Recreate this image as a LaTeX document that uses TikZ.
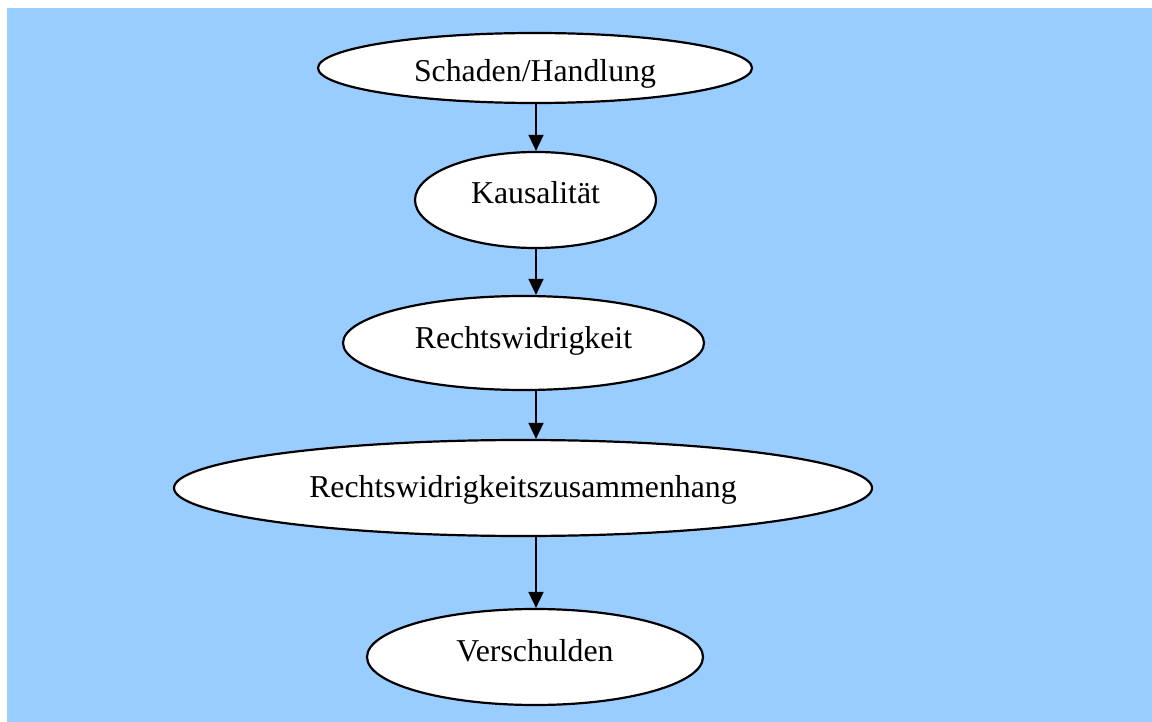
\documentclass[tikz,border=0pt]{standalone}
\usepackage{fontspec}
\setmainfont{Liberation Serif}
\usetikzlibrary{shapes.geometric,arrows.meta}
\definecolor{bgblue}{HTML}{99CCFF}
\tikzset{
  oval/.style={ellipse, draw=black, fill=white, line width=2.2pt, inner sep=0pt,
    text height=30pt, font=\fontsize{31.8}{36}\selectfont},
  arr/.style={line width=1.6pt, -{Triangle[width=15pt,length=16pt]}}
}
\begin{document}
\begin{tikzpicture}[x=1pt,y=-1pt]
\useasboundingbox (0,0) rectangle (1152,722);
\fill[white] (0,0) rectangle (1152,722);
\fill[bgblue] (7,8) rectangle (1152,722);
\node[oval, minimum width=434pt, minimum height=70pt, text depth=3pt] (A) at (535,68) {Schaden/Handlung};
\node[oval, minimum width=241pt, minimum height=96pt, text depth=23pt] (B) at (535.5,200) {Kausalität};
\node[oval, minimum width=361pt, minimum height=94pt, text depth=19pt] (C) at (523.5,343) {Rechtswidrigkeit};
\node[oval, minimum width=698pt, minimum height=96pt, text depth=11pt] (D) at (523,488) {Rechtswidrigkeitszusammenhang};
\node[oval, minimum width=336pt, minimum height=96pt, text depth=21pt] (E) at (535,657) {Verschulden};
\coordinate (x) at (536,0);
\draw[arr] (x |- A.south) -- (x |- B.north);
\draw[arr] (x |- B.south) -- (x |- C.north);
\draw[arr] (x |- C.south) -- (x |- D.north);
\draw[arr] (x |- D.south) -- (x |- E.north);
\end{tikzpicture}
\end{document}
